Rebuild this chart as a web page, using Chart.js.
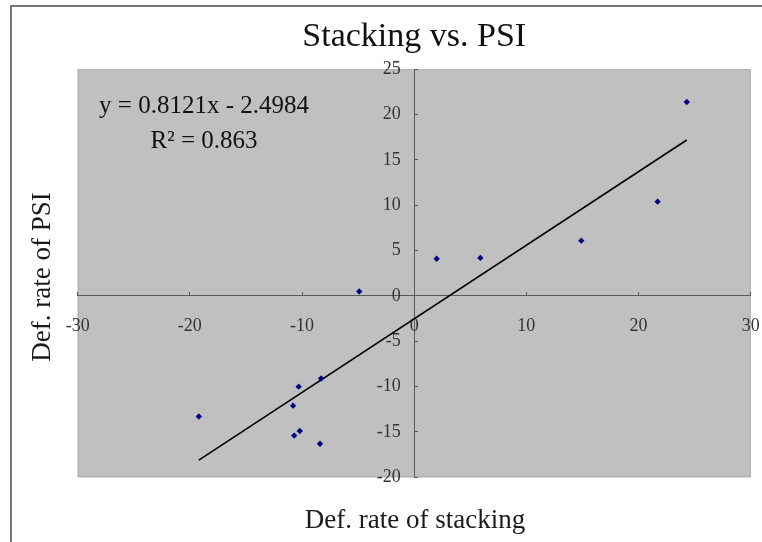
<!DOCTYPE html>
<html>
<head>
<meta charset="utf-8">
<script src="https://cdn.jsdelivr.net/npm/chart.js@4"></script>
<style>
  html, body { margin: 0; padding: 0; background: #fff; }
  canvas { display: block; }
</style>
</head>
<body>
<canvas id="myChart" width="762" height="542"></canvas>
<script>
// values
const stackingRate = [-19.2, -10.3, -8.3, -10.8, -10.2, -10.7, -8.4, -4.9, 2.0, 5.9, 14.9, 21.7, 24.3];
const psiRate      = [-13.3, -10.0, -9.1, -12.1, -14.9, -15.4, -16.3, 0.5, 4.1, 4.2, 6.1, 10.4, 21.4];

// trendline end points as drawn (Excel linear fit)
const trendX = [-19.2, 24.3];
const trendY = [-18.1, 17.2];

const titleText = 'Stacking vs. PSI';
const xTitle = 'Def. rate of stacking';
const yTitle = 'Def. rate of PSI';
const equationLines = ['y = 0.8121x - 2.4984', 'R\u00B2 = 0.863'];

const serif = '"Liberation Serif", "Times New Roman", serif';
Chart.defaults.font.family = serif;

// gray plot area + outer frame
const backdrop = {
  id: 'backdrop',
  beforeDraw(chart) {
    const { ctx, chartArea: a } = chart;
    ctx.save();
    ctx.strokeStyle = '#777';
    ctx.lineWidth = 2;
    ctx.strokeRect(11, 6, 820, 620);
    ctx.fillStyle = '#c0c0c0';
    ctx.fillRect(a.left, a.top, a.right - a.left, a.bottom - a.top);
    ctx.strokeStyle = '#aaa';
    ctx.lineWidth = 1;
    ctx.strokeRect(a.left + 0.5, a.top + 0.5, a.right - a.left - 1, a.bottom - a.top - 1);
    ctx.restore();
  }
};

// axis titles and trendline label
const labels = {
  id: 'labels',
  afterDraw(chart) {
    const ctx = chart.ctx;
    ctx.save();
    ctx.fillStyle = '#1a1a1a';
    ctx.textAlign = 'center';
    ctx.textBaseline = 'alphabetic';
    ctx.font = '27px ' + serif;
    ctx.fillText(xTitle, 415, 528);
    ctx.save();
    ctx.translate(50, 277);
    ctx.rotate(-Math.PI / 2);
    ctx.fillText(yTitle, 0, 0);
    ctx.restore();
    ctx.fillStyle = '#111';
    ctx.font = '25px ' + serif;
    ctx.fillText(equationLines[0], 204, 113);
    ctx.fillText(equationLines[1], 204, 148);
    ctx.restore();
  }
};

// axes sit on the zero lines, so they take no room in the layout
function noRoom(s) {
  s.width = s.isHorizontal() ? s.width : 0;
  s.height = s.isHorizontal() ? 0 : s.height;
  s.paddingLeft = 0;
  s.paddingRight = 0;
  s.paddingTop = 0;
  s.paddingBottom = 0;
}

const ctx = document.getElementById('myChart').getContext('2d');
new Chart(ctx, {
  type: 'scatter',
  data: {
    datasets: [
      {
        label: 'Data',
        data: stackingRate.map((x, i) => ({ x: x, y: psiRate[i] })),
        backgroundColor: '#000080',
        borderColor: '#000080',
        pointStyle: 'rectRot',
        pointRadius: 3.2,
        borderWidth: 0,
        showLine: false,
        order: 1
      },
      {
        label: 'Linear',
        data: trendX.map((x, i) => ({ x: x, y: trendY[i] })),
        showLine: true,
        borderColor: '#000',
        borderWidth: 1.6,
        pointRadius: 0,
        fill: false,
        order: 2
      }
    ]
  },
  options: {
    responsive: false,
    devicePixelRatio: 1,
    animation: false,
    layout: { padding: { left: 77.7, right: 11.3, top: 0, bottom: 64.7 } },
    scales: {
      x: {
        type: 'linear',
        min: -30,
        max: 30,
        position: { y: 0 },
        afterFit: noRoom,
        ticks: { stepSize: 10, color: '#333', padding: 23, font: { size: 18 } },
        grid: { drawOnChartArea: false, drawTicks: true, tickLength: -4, color: '#555' },
        border: { color: '#5a5a5a', width: 1 }
      },
      y: {
        type: 'linear',
        min: -20,
        max: 25,
        position: { x: 0 },
        afterFit: noRoom,
        ticks: {
          stepSize: 5,
          color: '#333',
          font: { size: 18 },
          callback: v => v + ' \u2002'
        },
        grid: { drawOnChartArea: false, drawTicks: true, tickLength: -4, color: '#555' },
        border: { color: '#5a5a5a', width: 1 }
      }
    },
    plugins: {
      legend: { display: false },
      tooltip: { enabled: false },
      title: {
        display: true,
        text: titleText,
        fullSize: false,
        color: '#111',
        font: { size: 34, weight: 'normal' },
        padding: { top: 17, bottom: 11.5 }
      }
    }
  },
  plugins: [backdrop, labels]
});
</script>
</body>
</html>
